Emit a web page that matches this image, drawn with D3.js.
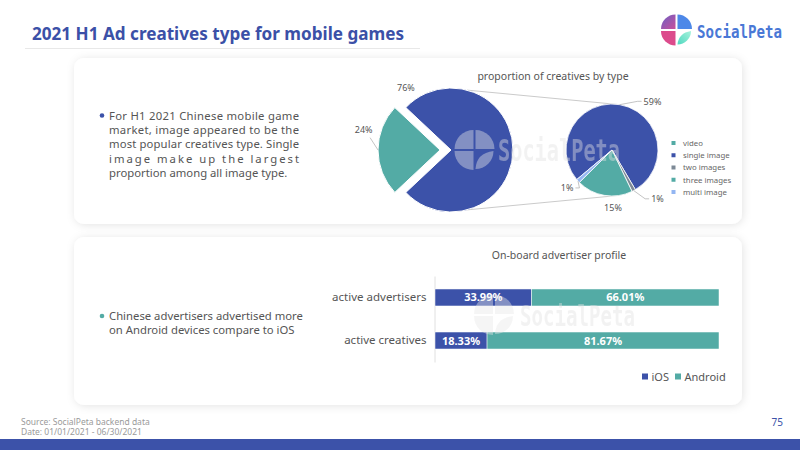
<!DOCTYPE html>
<html><head><meta charset="utf-8">
<script src="https://cdn.jsdelivr.net/npm/d3@7"></script>
<style>body{margin:0;background:#fff;} svg{display:block;font-family:"Noto Sans",sans-serif;}</style>
</head><body><svg id="c" width="800" height="450"></svg>
<script>
// ---------- data ----------
const title = "2021 H1 Ad creatives type for mobile games";
const note1Lines = ["For H1 2021 Chinese mobile game","market, image appeared to be the","most popular creatives type. Single","image make up the largest","proportion among all image type."];
const note2Lines = ["Chinese advertisers advertised more","on Android devices compare to iOS"];
const pieTitle = "proportion of creatives by type";
const mainTypes = ["video","image"];
const mainValues = [24,76];
const subTypes = ["single image","two images","three images","multi image"];
const subValues = [59,1,15,1];
const legendTypes = ["video","single image","two images","three images","multi image"];
const barTitle = "On-board advertiser profile";
const barCategories = ["active advertisers","active creatives"];
const iosShare = [33.99,18.33];
const androidShare = [66.01,81.67];
const barSeries = ["iOS","Android"];
const sourceLines = ["Source: SocialPeta backend data","Date: 01/01/2021 - 06/30/2021"];
const pageNumber = "75";

// ---------- styles ----------
const BLUE = "#3c52a9", TEAL = "#53aba5";
const colorOf = {"video":TEAL,"image":BLUE,"single image":BLUE,"two images":"#7d8996","three images":TEAL,"multi image":"#93b6f2","iOS":BLUE,"Android":TEAL};
const TXT = "#555";

const svg = d3.select("#c");
const defs = svg.append("defs");
const f = defs.append("filter").attr("id","sh").attr("x","-10%").attr("y","-20%").attr("width","120%").attr("height","140%");
f.append("feDropShadow").attr("dx",1).attr("dy",1).attr("stdDeviation",4).attr("flood-color","#000").attr("flood-opacity",0.11);
const g1 = defs.append("linearGradient").attr("id","lgTL").attr("x1","0").attr("y1","0").attr("x2","1").attr("y2","1");
g1.append("stop").attr("offset","0").attr("stop-color","#6a60c4");
g1.append("stop").attr("offset","1").attr("stop-color","#c94f9c");
const g2 = defs.append("linearGradient").attr("id","lgBR").attr("x1","0").attr("y1","1").attr("x2","1").attr("y2","0");
g2.append("stop").attr("offset","0").attr("stop-color","#4fd8c0");
g2.append("stop").attr("offset","1").attr("stop-color","#a8f2dc");

// ---------- header ----------
svg.append("text").attr("x",32).attr("y",40).attr("font-size",18).attr("font-weight",700)
  .attr("fill","#3b50a7").attr("textLength",372).attr("lengthAdjust","spacingAndGlyphs").text(title);
svg.append("line").attr("x1",25).attr("x2",420).attr("y1",48.5).attr("y2",48.5).attr("stroke","#e8e8e8");

function logoIcon(g, cx, cy, r, fills, opacity){
  const arc = d3.arc().innerRadius(0).outerRadius(r);
  const q = [[-Math.PI/2,0,-1,-1],[0,Math.PI/2,1,-1],[Math.PI,1.5*Math.PI,-1,1]];
  q.forEach((d,i)=>{
    g.append("path").attr("d",arc({startAngle:d[0],endAngle:d[1]}))
      .attr("transform",`translate(${cx+d[2]},${cy+d[3]})`).attr("fill",fills[i]).attr("opacity",opacity);
  });
  const x0 = cx+1, y0 = cy+1;
  g.append("path").attr("d",`M${x0+r-1},${y0} A${r-1},${r-1} 0 0 1 ${x0},${y0+r-1} Q${x0+1},${y0+2} ${x0+r-1},${y0} Z`)
    .attr("fill",fills[3]).attr("opacity",opacity);
}
function brandText(g, x, y, w, sy, fill, opacity){
  const fs = w/(10*0.602);
  g.append("text").attr("transform",`translate(${x},${y}) scale(1,${sy})`).attr("x",0).attr("y",0)
    .attr("font-family","DejaVu Sans Mono").attr("font-weight",700).attr("font-size",fs)
    .attr("fill",fill).attr("opacity",opacity).text("SocialPeta");
}
const logo = svg.append("g");
logoIcon(logo, 676.5, 30, 14.5, ["url(#lgTL)","#4d88e8","#dc4b8c","url(#lgBR)"], 1);
brandText(logo, 697, 37.5, 85, 1.3, "#4a78d6", 1);

// ---------- cards ----------
svg.append("rect").attr("x",74).attr("y",58).attr("width",668).attr("height",166).attr("rx",10).attr("fill","#fff").attr("filter","url(#sh)");
svg.append("rect").attr("x",74).attr("y",237).attr("width",668).attr("height",168).attr("rx",10).attr("fill","#fff").attr("filter","url(#sh)");

// ---------- notes ----------
svg.append("circle").attr("cx",102).attr("cy",115.5).attr("r",2.3).attr("fill",BLUE);
note1Lines.forEach((t,i)=>{
  const el = svg.append("text").attr("x",109).attr("y",119.5+i*14.4).attr("font-size",11.3).attr("fill",TXT).text(t);
  if(i<4) el.attr("textLength",190).attr("lengthAdjust","spacing");
});
svg.append("circle").attr("cx",102).attr("cy",316).attr("r",2.3).attr("fill",TEAL);
note2Lines.forEach((t,i)=>{
  svg.append("text").attr("x",109).attr("y",320+i*14.4).attr("font-size",11.3).attr("fill",TXT).text(t);
});

// ---------- watermark ----------
function watermark(cx, cy, r, tx, ty, tw){
  const g = svg.append("g").attr("pointer-events","none");
  logoIcon(g, cx, cy, r, ["#e6e6e6","#e6e6e6","#e6e6e6","#e6e6e6"], 0.42);
  brandText(g, tx, ty, tw, 1.45, "#e2e2e2", 0.42);
}

// ---------- pie of pie ----------
svg.append("text").attr("x",553).attr("y",80).attr("text-anchor","middle").attr("font-size",10.5).attr("fill",TXT).text(pieTitle);

const deg = Math.PI/180;
const C1 = [451,150], R1 = 62, C2 = [612,150], R2 = 46;
const pt = (c, r, a) => [c[0]+r*Math.sin(a), c[1]-r*Math.cos(a)];

// connector lines
const conn = svg.append("g").attr("stroke","#bdbdbd").attr("stroke-width",0.8).attr("fill","none");
conn.append("line").datum([pt(C1,R1,15*deg),pt(C2,R2,10*deg)]).attr("x1",d=>d[0][0]).attr("y1",d=>d[0][1]).attr("x2",d=>d[1][0]).attr("y2",d=>d[1][1]);
conn.append("line").datum([pt(C1,R1,165*deg),pt(C2,R2,170*deg)]).attr("x1",d=>d[0][0]).attr("y1",d=>d[0][1]).attr("x2",d=>d[1][0]).attr("y2",d=>d[1][1]);

const mainTotal = d3.sum(mainValues);
const a0 = 1.5*Math.PI - Math.PI*mainValues[0]/mainTotal;
const pie1 = d3.pie().sort(null).startAngle(a0).endAngle(a0+2*Math.PI)(mainValues);
const arc1 = d3.arc().innerRadius(0).outerRadius(R1);
const explode = [11,0];
svg.append("g").selectAll("path").data(pie1).join("path")
  .attr("d",arc1)
  .attr("transform",(d,i)=>{const m=(d.startAngle+d.endAngle)/2;return `translate(${C1[0]+explode[i]*Math.sin(m)},${C1[1]-explode[i]*Math.cos(m)})`;})
  .attr("fill",(d,i)=>colorOf[mainTypes[i]]).attr("stroke","#fff").attr("stroke-width",1);

// main labels
const pct = (v,t)=>Math.round(v/t*100)+"%";
{
  const d0 = pie1[0], m0 = (d0.startAngle+d0.endAngle)/2;
  const c0 = [C1[0]+explode[0]*Math.sin(m0), C1[1]-explode[0]*Math.cos(m0)];
  const p1 = pt(c0,R1,m0), p2 = pt(c0,R1+9,m0+10*deg), p3 = pt(c0,R1+17,m0+15*deg);
  svg.append("polyline").attr("points",[p1,p2].map(p=>p.join(",")).join(" ")).attr("fill","none").attr("stroke","#aaa").attr("stroke-width",0.7);
  svg.append("text").attr("x",p3[0]).attr("y",p3[1]+3).attr("text-anchor","middle").attr("font-size",9).attr("fill",TXT).text(pct(mainValues[0],mainTotal));
  const d1 = pie1[1];
  const p4 = pt(C1,R1+15,d1.startAngle+11*deg);
  svg.append("text").attr("x",p4[0]).attr("y",p4[1]+3).attr("text-anchor","middle").attr("font-size",9).attr("fill",TXT).text(pct(mainValues[1],mainTotal));
}

// sub pie
const s0 = 230*deg;
const pie2 = d3.pie().sort(null).startAngle(s0).endAngle(s0+2*Math.PI)(subValues);
const arc2 = d3.arc().innerRadius(0).outerRadius(R2);
svg.append("g").attr("transform",`translate(${C2[0]},${C2[1]})`).selectAll("path").data(pie2).join("path")
  .attr("d",arc2).attr("fill",(d,i)=>colorOf[subTypes[i]]).attr("stroke","#fff").attr("stroke-width",0.8);

// sub labels (elbow angle offset, elbow radius, horizontal dir, show leader)
const subLab = [[18,55,1,true],[-6,59,1,true],[-10,58,0,false],[-7,50,-1,true]];
pie2.forEach((d,i)=>{
  const m = (d.startAngle+d.endAngle)/2, L = subLab[i];
  const p1 = pt(C2,R2,m), p2 = pt(C2,L[1],m+L[0]*deg);
  const txt = Math.round(subValues[i]) + "%";
  if(L[3]){
    const p3 = [p2[0]+4*L[2], p2[1]];
    svg.append("polyline").attr("points",[p1,p2,p3].map(p=>p.join(",")).join(" ")).attr("fill","none").attr("stroke","#aaa").attr("stroke-width",0.7);
    svg.append("text").attr("x",p3[0]+2*L[2]).attr("y",p3[1]+3.2).attr("text-anchor",L[2]>0?"start":"end").attr("font-size",9).attr("fill",TXT).text(txt);
  } else {
    svg.append("text").attr("x",C2[0]+1).attr("y",p2[1]+3.5).attr("text-anchor","middle").attr("font-size",9).attr("fill",TXT).text(txt);
  }
});

// pie legend
const lg = svg.append("g");
legendTypes.forEach((t,i)=>{
  const y = 143+i*12.25;
  lg.append("rect").attr("x",671.5).attr("y",y-2).attr("width",4).attr("height",4).attr("fill",colorOf[t]);
  lg.append("text").attr("x",683).attr("y",y+2.8).attr("font-size",7.8).attr("fill","#666").text(t);
});

watermark(474.5, 150, 19, 498, 161, 122);

// ---------- bar chart ----------
svg.append("text").attr("x",559).attr("y",259).attr("text-anchor","middle").attr("font-size",10.5).attr("fill",TXT).text(barTitle);
const x = d3.scaleLinear().domain([0,100]).range([435,719]);
const y = d3.scaleBand().domain(barCategories).range([276,362]).paddingInner(0.605).paddingOuter(0.302);
const ax = svg.append("g").attr("transform","translate(434.5,0)").call(d3.axisLeft(y).tickSize(0).tickPadding(8));
ax.select(".domain").attr("stroke","#e0e0e0");
ax.selectAll("text").attr("font-size",11.5).attr("fill",TXT).attr("font-family","Noto Sans");

const stack = barCategories.map((c,i)=>({cat:c, parts:[{s:"iOS",v0:0,v1:iosShare[i]},{s:"Android",v0:iosShare[i],v1:iosShare[i]+androidShare[i]}]}));
const bg = svg.append("g");
stack.forEach(row=>{
  row.parts.forEach(p=>{
    bg.append("rect").attr("x",x(p.v0)).attr("y",y(row.cat)).attr("width",x(p.v1)-x(p.v0)).attr("height",y.bandwidth())
      .attr("fill",colorOf[p.s]).attr("stroke","#fff").attr("stroke-width",0.5);
  });
});
watermark(494, 315, 19, 520, 326, 115);
stack.forEach(row=>{
  row.parts.forEach(p=>{
    bg.append("text").attr("x",(x(p.v0)+x(p.v1))/2).attr("y",y(row.cat)+y.bandwidth()/2+4).attr("text-anchor","middle")
      .attr("font-size",11).attr("font-weight",700).attr("fill","#fff").text((p.v1-p.v0).toFixed(2)+"%");
  });
});

const bl = svg.append("g");
const legX = [642,675];
barSeries.forEach((s,i)=>{
  bl.append("rect").attr("x",legX[i]).attr("y",373.5).attr("width",6).attr("height",6).attr("fill",colorOf[s]);
  bl.append("text").attr("x",legX[i]+9.5).attr("y",380.5).attr("font-size",11).attr("fill",TXT).text(s);
});

// ---------- footer ----------
sourceLines.forEach((t,i)=>{
  svg.append("text").attr("x",21).attr("y",425+i*10).attr("font-size",8.5).attr("fill","#9a9a9a").text(t);
});
svg.append("text").attr("x",783).attr("y",426).attr("text-anchor","end").attr("font-size",10).attr("fill",BLUE).text(pageNumber);
svg.append("rect").attr("x",0).attr("y",439).attr("width",800).attr("height",11).attr("fill",BLUE);
</script></body></html>
